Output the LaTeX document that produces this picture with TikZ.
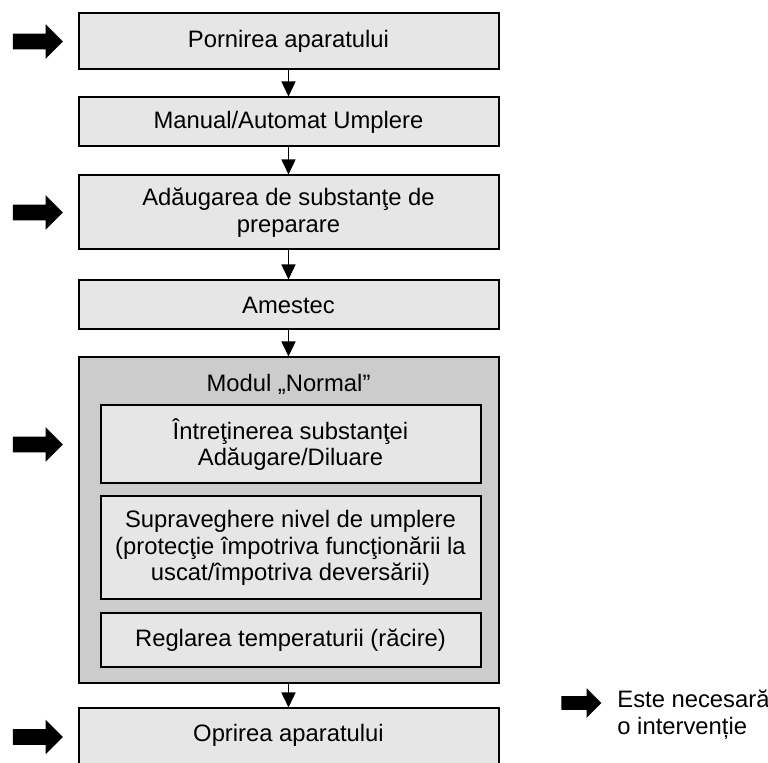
\documentclass[tikz,border=0pt]{standalone}
\usepackage{fontspec}
\setmainfont{Liberation Sans}
\usetikzlibrary{positioning, shapes.arrows, arrows.meta}
\definecolor{boxgray}{HTML}{E6E6E6}
\definecolor{modegray}{HTML}{CCCCCC}

\begin{document}
\begin{tikzpicture}[x=0.5pt, y=-0.5pt,
  font=\fontsize{11.9pt}{13.4pt}\selectfont,
  stage/.style={draw, line width=1pt, rectangle, fill=boxgray, minimum width=210pt, align=center, inner sep=0pt},
  task/.style={stage, minimum width=190pt},
  link/.style={-{Triangle[length=7.5pt, width=7pt]}, line width=0.75pt},
  hint/.style={single arrow, fill=black, inner xsep=0pt, inner ysep=3.75pt, minimum height=25pt, minimum width=17pt, single arrow head extend=4.75pt}
]
\useasboundingbox (0,0) rectangle (768,763);

\node[stage, minimum height=28pt] (start) at (288.5,41.5) {Pornirea aparatului};
\node[stage, minimum height=24.5pt] (fill) at (288.5,122) {Manual/Automat Umplere};
\node[stage, minimum height=37pt] (dose) at (288.5,212.5) {Adăugarea de substanţe de\\preparare};
\node[stage, minimum height=24.5pt] (mix) at (288.5,305) {Amestec};
\node[stage, minimum height=163pt, fill=modegray] (mode) at (288.5,520.5) {};
\node (modetitle) at ([yshift=-14pt]mode.north) {Modul „Normal”};
\node[task, minimum height=39pt] (care) at (290.5,444.5) {Întreţinerea substanţei\\Adăugare/Diluare};
\node[task, minimum height=51.5pt] (level) at (290.5,548) {Supraveghere nivel de umplere\\(protecţie împotriva funcţionării la\\uscat/împotriva deversării)};
\node[task, minimum height=27pt] (cool) at (290.5,640.5) {Reglarea temperaturii (răcire)};
\node[stage, minimum height=28.5pt] (stop) at (288.5,737) {\raisebox{4pt}{Oprirea aparatului}};

\draw[link] (start) -- (fill);
\draw[link] (fill) -- (dose);
\draw[link] (dose) -- (mix);
\draw[link] (mix) -- (mode);
\draw[link] (mode) -- (stop);

% steps that need the operator
\node[hint, left=7pt of start] (hintstart) {};
\node[hint, left=7pt of dose] (hintdose) {};
\coordinate (careleft) at (mode.west |- care.west);
\node[hint, left=7pt of careleft] (hintcare) {};
\node[hint, left=7pt of stop] (hintstop) {};

% legend
\node[hint, minimum height=20pt, minimum width=14.5pt, inner ysep=3.25pt, single arrow head extend=4pt] (legarrow) at (578,703) {};
\node[right=7.5pt of legarrow, yshift=-6pt, align=left, inner sep=0pt] (legtext) {Este necesară\\o intervenție};
\end{tikzpicture}
\end{document}
